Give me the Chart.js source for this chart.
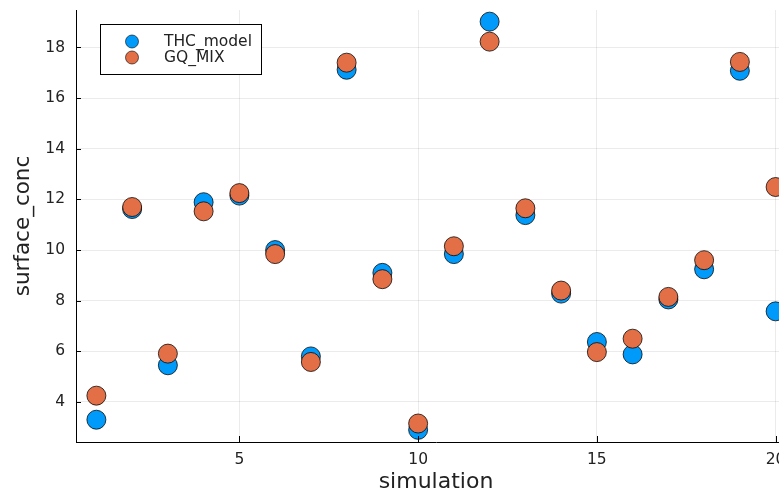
<!DOCTYPE html>
<html>
<head>
<meta charset="utf-8">
<script src="https://cdn.jsdelivr.net/npm/chart.js@4"></script>
<style>
  html, body { margin: 0; padding: 0; background: #fff; overflow: hidden; }
  #wrap { width: 779px; height: 495px; overflow: hidden; }
</style>
</head>
<body>
<div id="wrap"><canvas id="chart" width="800" height="495"></canvas></div>
<script>
const simulation = [1, 2, 3, 4, 5, 6, 7, 8, 9, 10, 11, 12, 13, 14, 15, 16, 17, 18, 19, 20];
const thcModel = [3.3, 11.62, 5.45, 11.89, 12.15, 10.0, 5.8, 17.12, 9.1, 2.9, 9.84, 19.02, 11.38, 8.28, 6.37, 5.88, 8.05, 9.24, 17.08, 7.58];
const gqMix = [4.25, 11.7, 5.91, 11.53, 12.25, 9.84, 5.58, 17.4, 8.85, 3.15, 10.15, 18.23, 11.65, 8.4, 5.97, 6.5, 8.15, 9.6, 17.43, 12.49];
const xTicks = [5, 10, 15, 20];
const yTicks = [4, 6, 8, 10, 12, 14, 16, 18];

const font = "'DejaVu Sans', sans-serif";

function points(ys) {
  return simulation.map((s, i) => ({ x: s, y: ys[i] }));
}

// inward tick marks and the legend box, like the Plots.jl default
const extras = {
  id: 'extras',
  afterDraw(chart) {
    const ctx = chart.ctx;
    const xs = chart.scales.x, ys = chart.scales.y;
    const area = chart.chartArea;
    ctx.save();
    ctx.strokeStyle = '#000';
    ctx.lineWidth = 1;
    ctx.beginPath();
    yTicks.forEach(v => {
      const py = Math.round(ys.getPixelForValue(v)) + 0.5;
      ctx.moveTo(area.left, py);
      ctx.lineTo(area.left + 5, py);
    });
    xTicks.forEach(v => {
      const px = Math.round(xs.getPixelForValue(v)) + 0.5;
      ctx.moveTo(px, area.bottom);
      ctx.lineTo(px, area.bottom - 6);
    });
    ctx.stroke();

    // legend
    ctx.fillStyle = '#fff';
    ctx.fillRect(100.5, 24.5, 161, 50);
    ctx.strokeRect(100.5, 24.5, 161, 50);
    ctx.font = '15.5px ' + font;
    ctx.textBaseline = 'middle';
    chart.data.datasets.slice().sort((a, b) => a.legendIndex - b.legendIndex).forEach((ds, i) => {
      const cy = 41.5 + i * 16;
      ctx.beginPath();
      ctx.arc(132, cy, 6.5, 0, Math.PI * 2);
      ctx.fillStyle = ds.backgroundColor;
      ctx.fill();
      ctx.strokeStyle = 'rgba(0,0,0,0.6)';
      ctx.stroke();
      ctx.fillStyle = '#222';
      ctx.fillText(ds.label, 164, cy + 0.5);
    });
    ctx.restore();
  }
};

const ctx = document.getElementById('chart').getContext('2d');
new Chart(ctx, {
  type: 'scatter',
  data: {
    datasets: [
      {
        label: 'THC_model',
        legendIndex: 0,
        order: 1,
        data: points(thcModel),
        backgroundColor: '#009afa',
        borderColor: 'rgba(0,0,0,0.75)',
        borderWidth: 1,
        pointRadius: 9.5,
        pointHoverRadius: 9.5
      },
      {
        label: 'GQ_MIX',
        legendIndex: 1,
        order: 0,
        data: points(gqMix),
        backgroundColor: '#e26f46',
        borderColor: 'rgba(0,0,0,0.75)',
        borderWidth: 1,
        pointRadius: 9.5,
        pointHoverRadius: 9.5
      }
    ]
  },
  options: {
    responsive: false,
    animation: false,
    devicePixelRatio: 1,
    layout: { autoPadding: false, padding: { left: 0, right: 4, top: 10, bottom: 0 } },
    plugins: { legend: { display: false }, tooltip: { enabled: false } },
    scales: {
      x: {
        type: 'linear',
        min: 0.43,
        max: 20.57,
        afterBuildTicks: s => { s.ticks = xTicks.map(v => ({ value: v })); },
        afterFit: s => { s.height = 53; s.paddingLeft = 0; s.paddingRight = 0; },
        grid: { color: 'rgba(0,0,0,0.08)', drawTicks: false },
        border: { color: '#000', width: 1 },
        ticks: { padding: 9, color: '#222', font: { family: font, size: 15.5 }, maxRotation: 0 },
        title: { display: true, text: 'simulation', color: '#222', font: { family: font, size: 22 }, padding: { top: 0, bottom: 0 } }
      },
      y: {
        type: 'linear',
        min: 2.42,
        max: 19.48,
        afterBuildTicks: s => { s.ticks = yTicks.map(v => ({ value: v })); },
        afterFit: s => { s.width = 76; s.paddingTop = 0; s.paddingBottom = 0; },
        grid: { color: 'rgba(0,0,0,0.08)', drawTicks: false },
        border: { color: '#000', width: 1 },
        ticks: { padding: 11, color: '#222', font: { family: font, size: 15.5 } },
        title: { display: true, text: 'surface_conc', color: '#222', font: { family: font, size: 21.5 }, padding: { top: 11, bottom: 0 } }
      }
    }
  },
  plugins: [extras]
});
</script>
</body>
</html>
